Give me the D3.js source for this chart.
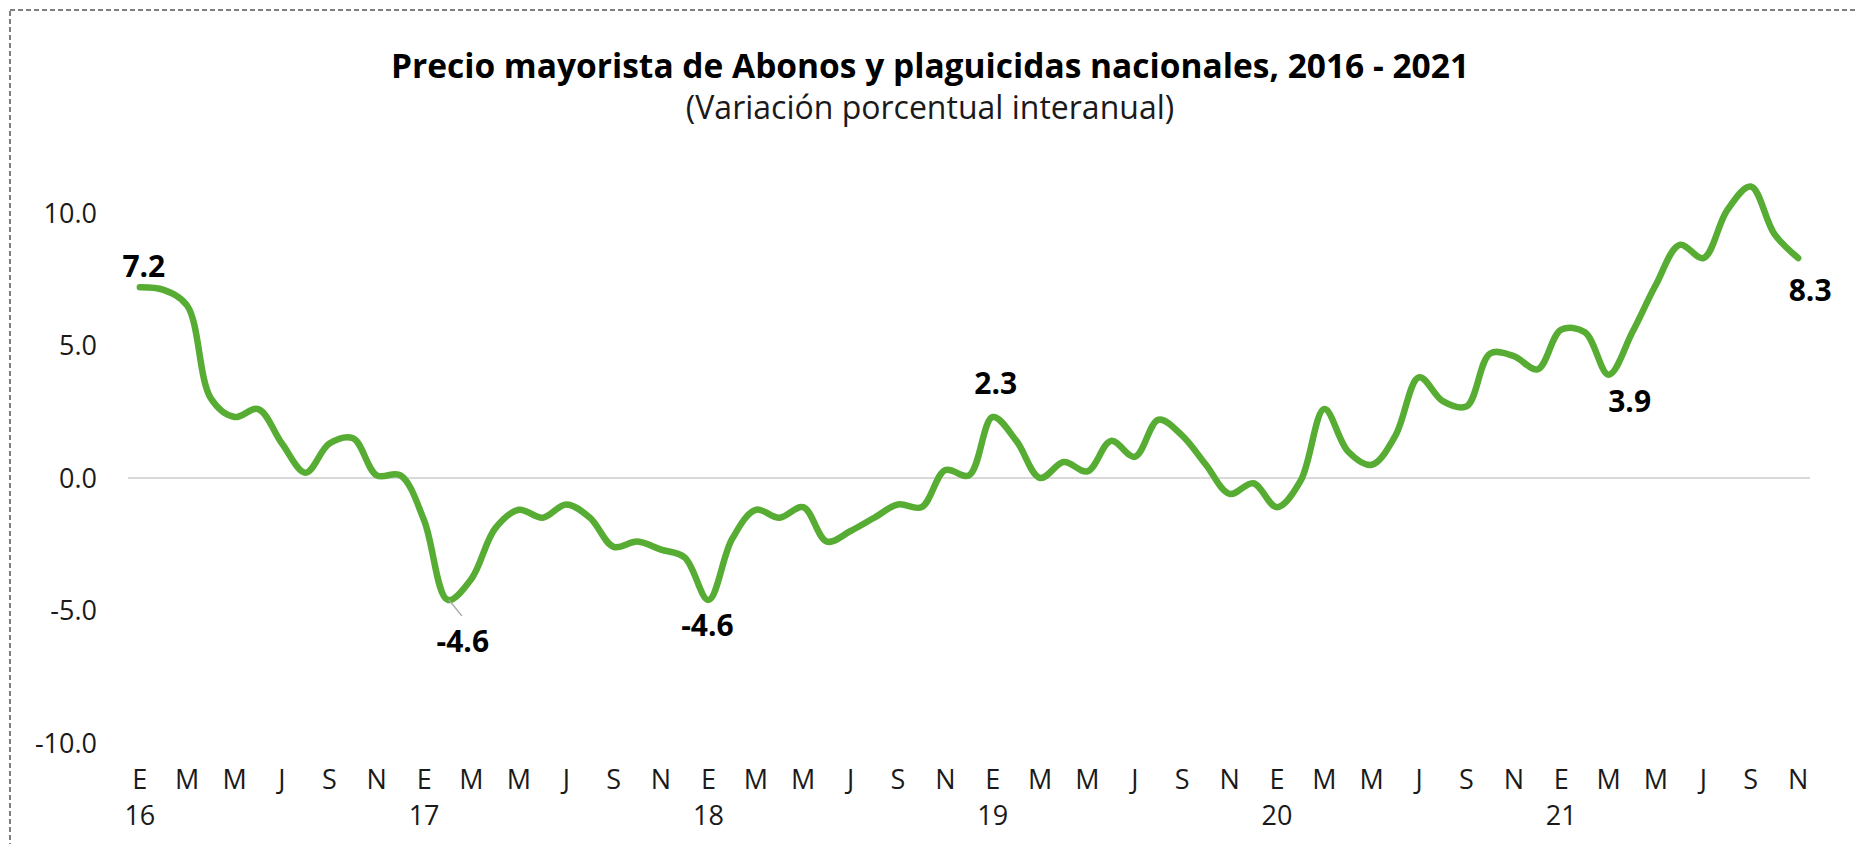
<!DOCTYPE html>
<html><head><meta charset="utf-8">
<script src="https://cdn.jsdelivr.net/npm/d3@7"></script>
<style>body{margin:0;background:#fff}svg{display:block}</style>
</head><body>
<script>
// ---- data ----
const years = ["16","17","18","19","20","21"];
const monthLetters = ["E","F","M","A","M","J","J","A","S","O","N","D"];
const values = [
  7.2, 7.1, 6.5, 3.0, 2.3, 2.6, 1.3, 0.2, 1.3, 1.5, 0.1, 0.1,
  -1.6, -4.6, -3.8, -1.9, -1.2, -1.5, -1.0, -1.5, -2.6, -2.4, -2.7, -3.0,
  -4.6, -2.3, -1.2, -1.5, -1.1, -2.4, -2.0, -1.5, -1.0, -1.1, 0.3, 0.1,
  2.3, 1.4, 0.0, 0.6, 0.25, 1.4, 0.8, 2.2, 1.6, 0.5, -0.6, -0.2,
  -1.1, -0.1, 2.6, 1.0, 0.5, 1.6, 3.8, 2.9, 2.7, 4.7, 4.6, 4.1,
  5.6, 5.5, 3.9, 5.5, 7.3, 8.8, 8.3, 10.1, 11.0, 9.2, 8.3
];
const yTicks = [-10, -5, 0, 5, 10];
const labeledIdx = [0, 13, 24, 36, 62, 70];
const labelTexts = ["7.2", "-4.6", "-4.6", "2.3", "3.9", "8.3"];
const title = "Precio mayorista de Abonos y plaguicidas nacionales, 2016 - 2021";
const subtitle = "(Variación porcentual interanual)";

// ---- layout / style ----
const W = 1855, H = 844;
const labelOffsets = [[4,-10],[15,52],[-1,36],[3,-23],[21,37],[12,43]];
const leaderIdx = 13;
const font = "'Open Sans', 'Noto Sans', sans-serif";
const green = "#57AD33";

const months = [];
years.forEach(y => monthLetters.forEach((m, k) => months.push({y, m, k})));
const cats = values.map((v, i) => i);

const svg = d3.select("body").append("svg").attr("width", W).attr("height", H);

// dashed border
svg.append("rect").attr("x", 10).attr("y", 10).attr("width", W + 20).attr("height", H + 20)
  .attr("fill", "none").attr("stroke", "#7f7f7f").attr("stroke-width", 2)
  .attr("stroke-dasharray", "5,3");

const x = d3.scaleBand().domain(cats).range([128, 1810]).paddingInner(0).paddingOuter(0);
const cx = i => x(i) + x.bandwidth() / 2;
const y = d3.scaleLinear().domain([-10, 10]).range([743, 213]);

// title
svg.append("text").attr("x", 930).attr("y", 78).attr("text-anchor", "middle")
  .attr("font-family", font).attr("font-weight", "bold").attr("font-size", 33.5)
  .attr("fill", "#000").text(title);
svg.append("text").attr("x", 930).attr("y", 119).attr("text-anchor", "middle")
  .attr("font-family", font).attr("font-size", 32).attr("fill", "#1a1a1a").text(subtitle);

// y axis
const fmt = d3.format(".1f");
const yAxis = d3.axisLeft(y).tickValues(yTicks).tickFormat(d => fmt(d).replace("\u2212", "-")).tickSize(0).tickPadding(0);
const gy = svg.append("g").attr("transform", "translate(97,0)").call(yAxis);
gy.select(".domain").remove();
gy.selectAll("text").attr("font-family", font).attr("font-size", 27).attr("fill", "#1a1a1a")
  .attr("dy", "0.35em");

// zero gridline
svg.append("line").attr("x1", x.range()[0]).attr("x2", x.range()[1])
  .attr("y1", y(0)).attr("y2", y(0)).attr("stroke", "#d9d9d9").attr("stroke-width", 2);

// x axis (every other month)
const tickIdx = cats.filter(i => i % 2 === 0);
const xAxis = d3.axisBottom(x).tickValues(tickIdx).tickFormat(i => months[i].m).tickSize(0).tickPadding(0);
const gx = svg.append("g").attr("transform", "translate(0,770)").call(xAxis);
gx.select(".domain").remove();
gx.selectAll("text").attr("font-family", font).attr("font-size", 27).attr("fill", "#1a1a1a")
  .attr("dy", "0.71em");
// year labels
svg.append("g").selectAll("text").data(cats.filter(i => months[i].k === 0)).join("text")
  .attr("x", cx).attr("y", 825).attr("text-anchor", "middle")
  .attr("font-family", font).attr("font-size", 27).attr("fill", "#1a1a1a")
  .text(i => months[i].y);

// line
const line = d3.line().x((d, i) => cx(i)).y(d => y(d)).curve(d3.curveCatmullRom.alpha(0.5));
svg.append("path").datum(values).attr("d", line).attr("fill", "none")
  .attr("stroke", green).attr("stroke-width", 6.5).attr("stroke-linecap", "round")
  .attr("stroke-linejoin", "round");

// leader line
svg.append("line").attr("x1", cx(leaderIdx) + 1).attr("y1", y(values[leaderIdx]))
  .attr("x2", cx(leaderIdx) + 14).attr("y2", y(values[leaderIdx]) + 16)
  .attr("stroke", "#a6a6a6").attr("stroke-width", 1.5);

// data labels
svg.append("g").selectAll("text").data(labeledIdx).join("text")
  .attr("x", (i, j) => cx(i) + labelOffsets[j][0])
  .attr("y", (i, j) => y(values[i]) + labelOffsets[j][1])
  .attr("text-anchor", "middle").attr("font-family", font).attr("font-weight", "bold")
  .attr("font-size", 30).attr("fill", "#000")
  .text((i, j) => labelTexts[j]);
</script>
</body></html>
